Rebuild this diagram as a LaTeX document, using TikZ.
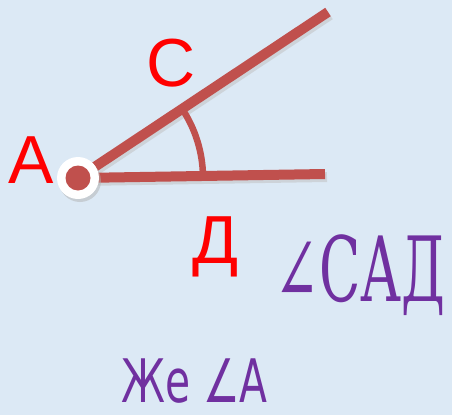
\documentclass[tikz,border=0pt]{standalone}
\usepackage{fontspec}
\setmainfont{Liberation Sans}
\newfontfamily\serifcyr{DejaVu Serif}
\newfontfamily\sanscyr{DejaVu Sans}
\definecolor{bgblue}{HTML}{DCE9F5}
\definecolor{linered}{HTML}{C0504D}
\definecolor{txtred}{HTML}{FF0000}
\definecolor{txtpurple}{HTML}{7030A0}
\tikzset{
  ray/.style={draw=linered,line width=10pt},
  arcline/.style={draw=linered,line width=6.5pt},
  redlabel/.style={text=txtred,inner sep=0pt,anchor=base west,font=\fontsize{68}{68}\selectfont},
  purplelabel/.style={text=txtpurple,inner sep=0pt,anchor=base west}
}
\begin{document}
\begin{tikzpicture}[x=1pt,y=-1pt]
\fill[bgblue] (0,0) rectangle (452,415);
\useasboundingbox (0,0) rectangle (452,415);
\coordinate (A) at (78,178);
\coordinate (Cend) at (328,12);
\coordinate (Dend) at (325,174);
% shadows
\draw[line width=10pt,black!25,opacity=0.5] ([shift={(2,3)}]A) -- ([shift={(2,3)}]Cend);
\draw[line width=10pt,black!25,opacity=0.5] ([shift={(2,3)}]A) -- ([shift={(2,3)}]Dend);
\draw[ray] (A) -- (Cend);
\draw[ray] (A) -- (Dend);
\draw[arcline] ([shift={(-33.6:125)}]A) arc[start angle=-33.6,end angle=-1,radius=125];
\fill[black!30,opacity=0.5] ([shift={(2,3)}]A) circle (21);
\fill[white] (A) circle (21);
\fill[linered] (A) circle (12.5);
\node[redlabel] (la) at (8,183) {А};
\node[redlabel] (lc) at (146,86) {С};
\node[redlabel] (ld) at (192,263) {Д};
\node[purplelabel,font=\fontsize{90}{90}\serifcyr] (ang) at (274,301) {\scalebox{0.6}[1]{∠САД}};
\node[purplelabel,font=\fontsize{60}{60}\sanscyr] (alt) at (121,402) {\scalebox{0.68}[1]{Же ∠А}};
\end{tikzpicture}
\end{document}
